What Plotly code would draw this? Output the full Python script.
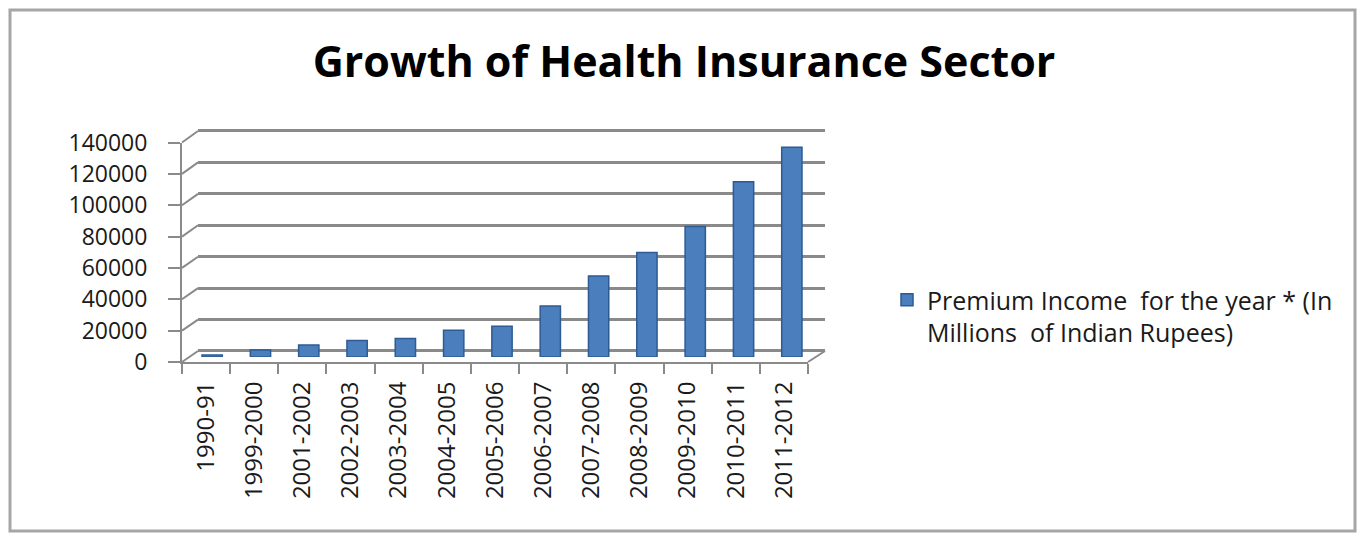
import plotly.graph_objects as go

categories = ["1990-91", "1999-2000", "2001-2002", "2002-2003", "2003-2004",
              "2004-2005", "2005-2006", "2006-2007", "2007-2008", "2008-2009",
              "2009-2010", "2010-2011", "2011-2012"]
premium = [1200, 4500, 7600, 10500, 11800, 17000, 19500, 32500, 51500,
           66500, 83000, 111500, 133500]
tick_vals = [0, 20000, 40000, 60000, 80000, 100000, 120000, 140000]
tick_text = ["0", "20000", "40000", "60000", "80000", "100000", "120000", "140000"]
series_name = "Premium Income\u00a0\u00a0for the year * (In<br>Millions\u00a0\u00a0of Indian Rupees)"
title_text = "Growth of Health Insurance Sector"

W, H = 1359, 533
YMAX = 140000

def px_x(p):
    return p / W

def px_y(p):
    return 1 - p / H

def y_domain(p0, ptop, pad=0):
    # pixel rows of value 0 and YMAX -> domain for range [-pad, YMAX+pad]
    per = (p0 - ptop) / YMAX
    return [px_y(p0 + pad * per), px_y(ptop - pad * per)]

# front frame (tick labels), back wall (grid), middle depth (bars)
front_x = [px_x(182), px_x(808)]
front_px = (362, 142.5)
back_x = [px_x(198), px_x(825)]
back_px = (351, 131)
back_pad = 2000  # keeps the edge gridlines drawn
mid_x = [px_x(188), px_x(816)]
mid_px = (357, 137)

GRID = "#8a8a8a"
FONT = "Open Sans, Liberation Sans, sans-serif"

fig = go.Figure()
# invisible carriers so that the front and back axes get drawn
fig.add_trace(go.Scatter(x=categories, y=premium, xaxis="x", yaxis="y",
                         mode="markers", marker=dict(opacity=0),
                         showlegend=False, hoverinfo="skip"))
fig.add_trace(go.Scatter(x=categories, y=premium, xaxis="x2", yaxis="y2",
                         mode="markers", marker=dict(opacity=0),
                         showlegend=False, hoverinfo="skip"))
fig.add_trace(go.Bar(
    x=categories, y=premium, name=series_name,
    xaxis="x3", yaxis="y3",
    marker=dict(color="#4a7ebd", line=dict(color="#2d5b92", width=1.5)),
    width=0.42,
))

layout = dict(
    template="none",
    width=W, height=H,
    margin=dict(l=0, r=0, t=0, b=0, pad=0, autoexpand=False),
    paper_bgcolor="white", plot_bgcolor="rgba(0,0,0,0)",
    font=dict(family=FONT, size=23, color="#1a1a1a"),
    title=dict(text="<b>" + title_text + "</b>", x=px_x(684), y=px_y(62),
               xref="paper", yref="paper",
               xanchor="center", yanchor="middle",
               font=dict(family=FONT, size=43, color="#000000")),
    xaxis=dict(domain=front_x, anchor="y", type="category", automargin=False,
               categoryorder="array", categoryarray=categories,
               range=[-0.5, len(categories) - 0.5],
               tickmode="array", tickvals=categories, ticktext=categories,
               tickangle=-90, ticks="outside", ticklen=10, tickwidth=2,
               tickcolor=GRID, tickson="boundaries",
               showline=True, linecolor=GRID, linewidth=2,
               showgrid=False, zeroline=False, ticklabelstandoff=8,
               tickfont=dict(size=24, color="#1a1a1a")),
    yaxis=dict(domain=y_domain(*front_px), anchor="x", range=[0, YMAX],
               automargin=False,
               tickmode="array", tickvals=tick_vals, ticktext=tick_text,
               ticks="outside", ticklen=12, tickwidth=2, tickcolor=GRID,
               showline=True, linecolor=GRID, linewidth=2,
               showgrid=False, zeroline=False, ticklabelstandoff=16,
               tickfont=dict(size=23, color="#1a1a1a")),
    xaxis2=dict(domain=back_x, anchor="y2", type="category", automargin=False,
                categoryorder="array", categoryarray=categories,
                range=[-0.5, len(categories) - 0.5], visible=False),
    yaxis2=dict(domain=y_domain(*back_px, pad=back_pad), anchor="x2",
                range=[-back_pad, YMAX + back_pad], automargin=False,
                tickmode="array", tickvals=tick_vals, showticklabels=False,
                showgrid=True, gridcolor=GRID, gridwidth=2.5, zeroline=False,
                showline=False, ticks=""),
    xaxis3=dict(domain=mid_x, anchor="y3", type="category", automargin=False,
                categoryorder="array", categoryarray=categories,
                range=[-0.5, len(categories) - 0.5], visible=False),
    yaxis3=dict(domain=y_domain(*mid_px), anchor="x3", range=[0, YMAX],
                automargin=False, visible=False),
    legend=dict(x=px_x(887), y=px_y(316), xanchor="left", yanchor="middle",
                font=dict(family=FONT, size=25, color="#1a1a1a"),
                bgcolor="rgba(0,0,0,0)", itemwidth=30, valign="top"),
    showlegend=True,
    bargap=0.5,
)

shapes = []
# diagonals joining front ticks to back wall gridlines (3-D wall look)
for v in tick_vals:
    fy = px_y(front_px[0] - (front_px[0] - front_px[1]) * v / YMAX)
    by = px_y(back_px[0] - (back_px[0] - back_px[1]) * v / YMAX)
    shapes.append(dict(type="line", xref="paper", yref="paper",
                       x0=front_x[0], y0=fy, x1=back_x[0], y1=by,
                       line=dict(color=GRID, width=2)))
# right floor diagonal
shapes.append(dict(type="line", xref="paper", yref="paper",
                   x0=front_x[1], y0=px_y(front_px[0]), x1=back_x[1], y1=px_y(back_px[0]),
                   line=dict(color=GRID, width=2)))
# outer frame
shapes.append(dict(type="rect", xref="paper", yref="paper",
                   x0=px_x(10), y0=px_y(531), x1=px_x(1355), y1=px_y(10),
                   line=dict(color="#a6a6a6", width=3)))
layout["shapes"] = shapes

fig.update_layout(**layout)
fig.write_html("out.html")
